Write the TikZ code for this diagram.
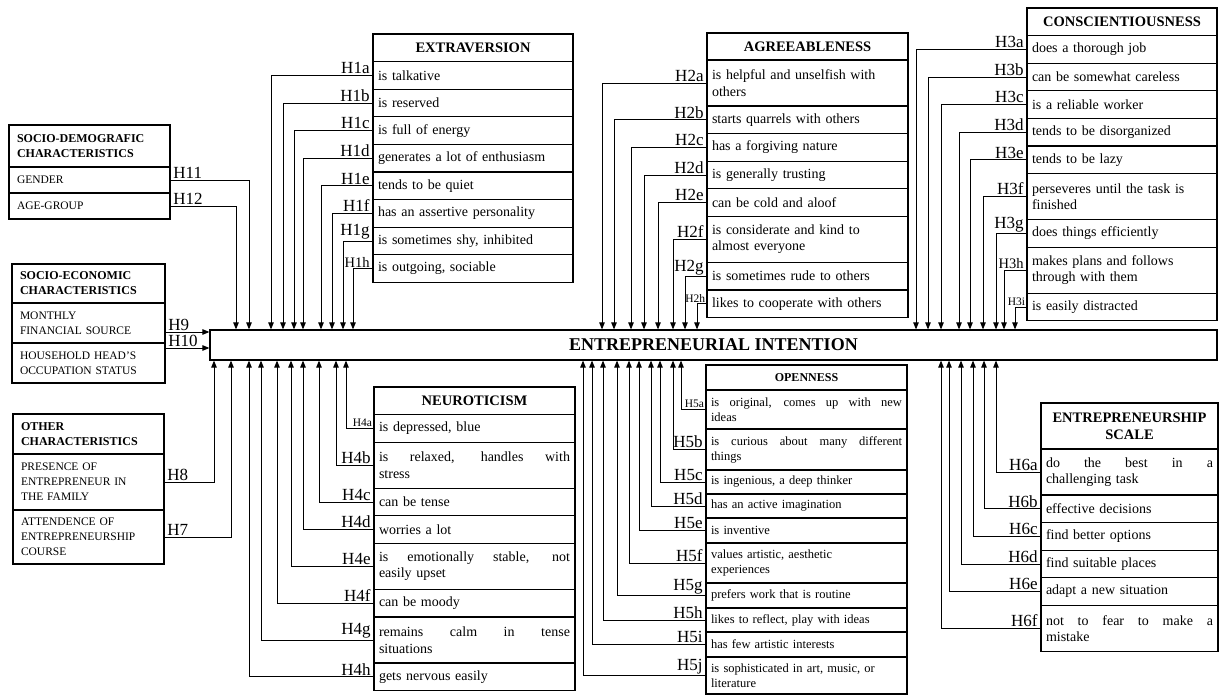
\documentclass[tikz,border=0pt]{standalone}
\usepackage{fontspec}
\setmainfont{Liberation Serif}
\usetikzlibrary{arrows.meta, positioning}

\newcommand{\jline}[1]{\makebox[\hsize][s]{\spaceskip=0pt\xspaceskip=0pt\relax #1}}

\begin{document}
\begin{tikzpicture}
  [
    x=1pt, y=-1pt,
    cell/.style={draw, line width=1.2pt, outer sep=0pt, inner xsep=5pt, inner ysep=1pt,
      minimum height=27.6pt, text width=#1, align=left, font=\fontsize{14}{16.5}\selectfont},
    hd/.style={align=center, font=\fontsize{14.5}{17}\selectfont\bfseries},
    tall/.style={minimum height=46pt},
    lcell/.style={cell=#1, inner xsep=8pt, font=\fontsize{11.5}{15}\selectfont},
    lhd/.style={font=\fontsize{12}{15}\selectfont\bfseries},
    ocell/.style={cell=#1, font=\fontsize{12.5}{15}\selectfont},
    bar/.style={draw, line width=1.2pt, minimum width=1007pt, minimum height=30pt,
      font=\fontsize{18}{20}\selectfont\bfseries},
    conn/.style={line width=0.9pt, -{Triangle[length=7pt, width=5.5pt]}},
    hlab/.style={inner xsep=3pt, inner ysep=1pt, font=\fontsize{17}{20}\selectfont},
    hmid/.style={hlab, font=\fontsize{14.5}{17}\selectfont},
    hsmall/.style={hlab, inner xsep=1.5pt, font=\fontsize{11.5}{14}\selectfont}
  ]
  \useasboundingbox (0,0) rectangle (1219,695);

  \node[bar] (bar) at (713.5,345) {ENTREPRENEURIAL INTENTION};

  % left side boxes
  \begin{scope}[nodes={lcell=145pt}]
    \node[lhd, minimum height=42pt, anchor=north west] (sdem) at (9,125) {SOCIO-DEMOGRAFIC\\CHARACTERISTICS};
    \node[minimum height=26pt, below=0pt of sdem] (g1) {GENDER};
    \node[minimum height=26pt, below=0pt of g1] (g2) {AGE-GROUP};
  \end{scope}
  \begin{scope}[nodes={lcell=137pt}]
    \node[lhd, minimum height=39pt, anchor=north west] (secon) at (12,264) {SOCIO-ECONOMIC\\CHARACTERISTICS};
    \node[minimum height=40pt, below=0pt of secon] (m1) {MONTHLY\\FINANCIAL SOURCE};
    \node[minimum height=40pt, below=0pt of m1] (m2) {HOUSEHOLD HEAD'S\\OCCUPATION STATUS};
  \end{scope}
  \begin{scope}[nodes={lcell=135pt}]
    \node[lhd, minimum height=40pt, anchor=north west] (oth) at (13,414) {OTHER\\CHARACTERISTICS};
    \node[minimum height=56pt, below=0pt of oth] (p1) {PRESENCE OF\\ENTREPRENEUR IN\\THE FAMILY};
    \node[minimum height=54pt, below=0pt of p1] (p2) {ATTENDENCE OF\\ENTREPRENEURSHIP\\COURSE};
  \end{scope}

  % extraversion
  \begin{scope}[nodes={cell=190pt}]
    \node[hd, anchor=north west] (ext) at (373,34) {EXTRAVERSION};
    \node[below=0pt of ext] (e1) {is talkative};
    \node[below=0pt of e1] (e2) {is reserved};
    \node[below=0pt of e2] (e3) {is full of energy};
    \node[below=0pt of e3] (e4) {generates a lot of enthusiasm};
    \node[below=0pt of e4] (e5) {tends to be quiet};
    \node[below=0pt of e5] (e6) {has an assertive personality};
    \node[below=0pt of e6] (e7) {is sometimes shy, inhibited};
    \node[below=0pt of e7] (e8) {is outgoing, sociable};
  \end{scope}

  % agreeableness
  \begin{scope}[nodes={cell=191pt}]
    \node[hd, minimum height=27pt, anchor=north west] (agr) at (707,33) {AGREEABLENESS};
    \node[tall, below=0pt of agr] (a1) {is helpful and unselfish with\\others};
    \node[below=0pt of a1] (a2) {starts quarrels with others};
    \node[below=0pt of a2] (a3) {has a forgiving nature};
    \node[below=0pt of a3] (a4) {is generally trusting};
    \node[below=0pt of a4] (a5) {can be cold and aloof};
    \node[tall, below=0pt of a5] (a6) {is considerate and kind to\\almost everyone};
    \node[below=0pt of a6] (a7) {is sometimes rude to others};
    \node[below=0pt of a7] (a8) {likes to cooperate with others};
  \end{scope}

  % conscientiousness
  \begin{scope}[nodes={cell=180pt}]
    \node[hd, anchor=north west] (con) at (1027,8) {CONSCIENTIOUSNESS};
    \node[below=0pt of con] (c1) {does a thorough job};
    \node[below=0pt of c1] (c2) {can be somewhat careless};
    \node[below=0pt of c2] (c3) {is a reliable worker};
    \node[below=0pt of c3] (c4) {tends to be disorganized};
    \node[below=0pt of c4] (c5) {tends to be lazy};
    \node[tall, below=0pt of c5] (c6) {perseveres until the task is\\finished};
    \node[below=0pt of c6] (c7) {does things efficiently};
    \node[tall, below=0pt of c7] (c8) {makes plans and follows\\through with them};
    \node[below=0pt of c8] (c9) {is easily distracted};
  \end{scope}

  % neuroticism
  \begin{scope}[nodes={cell=191pt}]
    \node[hd, anchor=north west] (neu) at (374,387) {NEUROTICISM};
    \node[below=0pt of neu] (n1) {is depressed, blue};
    \node[tall, below=0pt of n1] (n2) {\jline{is relaxed, handles with}\\stress};
    \node[below=0pt of n2] (n3) {can be tense};
    \node[below=0pt of n3] (n4) {worries a lot};
    \node[tall, below=0pt of n4] (n5) {\jline{is emotionally stable, not}\\easily upset};
    \node[below=0pt of n5] (n6) {can be moody};
    \node[tall, below=0pt of n6] (n7) {\jline{remains calm in tense}\\situations};
    \node[below=0pt of n7] (n8) {gets nervous easily};
  \end{scope}

  % openness
  \begin{scope}[nodes={ocell=191pt}]
    \node[hd, font=\fontsize{12}{14}\selectfont\bfseries, minimum height=25pt, anchor=north west] (ope) at (706,365) {OPENNESS};
    \node[minimum height=39pt, below=0pt of ope] (o1) {\jline{is original, comes up with new}\\ideas};
    \node[minimum height=41pt, below=0pt of o1] (o2) {\jline{is curious about many different}\\things};
    \node[minimum height=24pt, below=0pt of o2] (o3) {is ingenious, a deep thinker};
    \node[minimum height=24pt, below=0pt of o3] (o4) {has an active imagination};
    \node[minimum height=25pt, below=0pt of o4] (o5) {is inventive};
    \node[minimum height=40pt, below=0pt of o5] (o6) {values artistic, aesthetic\\experiences};
    \node[minimum height=25pt, below=0pt of o6] (o7) {prefers work that is routine};
    \node[minimum height=24pt, below=0pt of o7] (o8) {likes to reflect, play with ideas};
    \node[minimum height=25pt, below=0pt of o8] (o9) {has few artistic interests};
    \node[minimum height=37pt, below=0pt of o9] (o10) {is sophisticated in art, music, or\\literature};
  \end{scope}

  % entrepreneurship scale
  \begin{scope}[nodes={cell=167pt}]
    \node[hd, tall, anchor=north west] (esc) at (1041,403) {ENTREPRENEURSHIP\\SCALE};
    \node[tall, below=0pt of esc] (s1) {\jline{do the best in a}\\challenging task};
    \node[below=0pt of s1] (s2) {effective decisions};
    \node[below=0pt of s2] (s3) {find better options};
    \node[below=0pt of s3] (s4) {find suitable places};
    \node[below=0pt of s4] (s5) {adapt a new situation};
    \node[tall, below=0pt of s5] (s6) {\jline{not to fear to make a}\\mistake};
  \end{scope}

  % connectors
  \draw[conn] (g1.east) node[hlab, anchor=south west] {H11} -| (bar.north -| 249,0);
  \draw[conn] (g2.east) node[hlab, anchor=south west] {H12} -| (bar.north -| 236,0);
  \draw[conn] (m1.east |- 0,332) node[hlab, anchor=south west] {H9} -- (bar.west |- 0,332);
  \draw[conn] (m2.east |- 0,348) node[hlab, anchor=south west] {H10} -- (bar.west |- 0,348);
  \draw[conn] (p1.east) node[hlab, anchor=south west] {H8} -| (bar.south -| 214,0);
  \draw[conn] (p2.east) node[hlab, anchor=south west] {H7} -| (bar.south -| 231,0);

  \foreach \r/\xx/\h/\s in {e1/271/H1a/hlab, e2/283/H1b/hlab, e3/294/H1c/hlab, e4/303/H1d/hlab,
      e5/321/H1e/hlab, e6/332/H1f/hlab, e7/343/H1g/hlab, e8/353/H1h/hmid,
      a1/602/H2a/hlab, a2/614/H2b/hlab, a3/631/H2c/hlab, a4/644/H2d/hlab,
      a5/658/H2e/hlab, a6/673/H2f/hlab, a7/685/H2g/hlab, a8/697/H2h/hsmall,
      c1/916/H3a/hlab, c2/928/H3b/hlab, c3/941/H3c/hlab, c4/959/H3d/hlab, c5/970/H3e/hlab,
      c6/983/H3f/hlab, c7/996/H3g/hlab, c8/1004/H3h/hmid, c9/1015/H3i/hsmall}
    \draw[conn] (\r.west) node[\s, anchor=south east] {\h} -| (bar.north -| \xx,0);

  \foreach \r/\xx/\h/\s in {n1/346/H4a/hsmall, n2/336/H4b/hlab, n3/319/H4c/hlab, n4/303/H4d/hlab,
      n5/291/H4e/hlab, n6/277/H4f/hlab, n7/261/H4g/hlab, n8/249/H4h/hlab,
      o1/681/H5a/hsmall, o2/673/H5b/hlab, o3/660/H5c/hlab, o4/651/H5d/hlab, o5/639/H5e/hlab,
      o6/629/H5f/hlab, o7/617/H5g/hlab, o8/603/H5h/hlab, o9/592/H5i/hlab, o10/583/H5j/hlab,
      s1/996/H6a/hlab, s2/984/H6b/hlab, s3/973/H6c/hlab, s4/961/H6d/hlab, s5/949/H6e/hlab,
      s6/941/H6f/hlab}
    \draw[conn] (\r.west) node[\s, anchor=south east] {\h} -| (bar.south -| \xx,0);
\end{tikzpicture}
\end{document}
